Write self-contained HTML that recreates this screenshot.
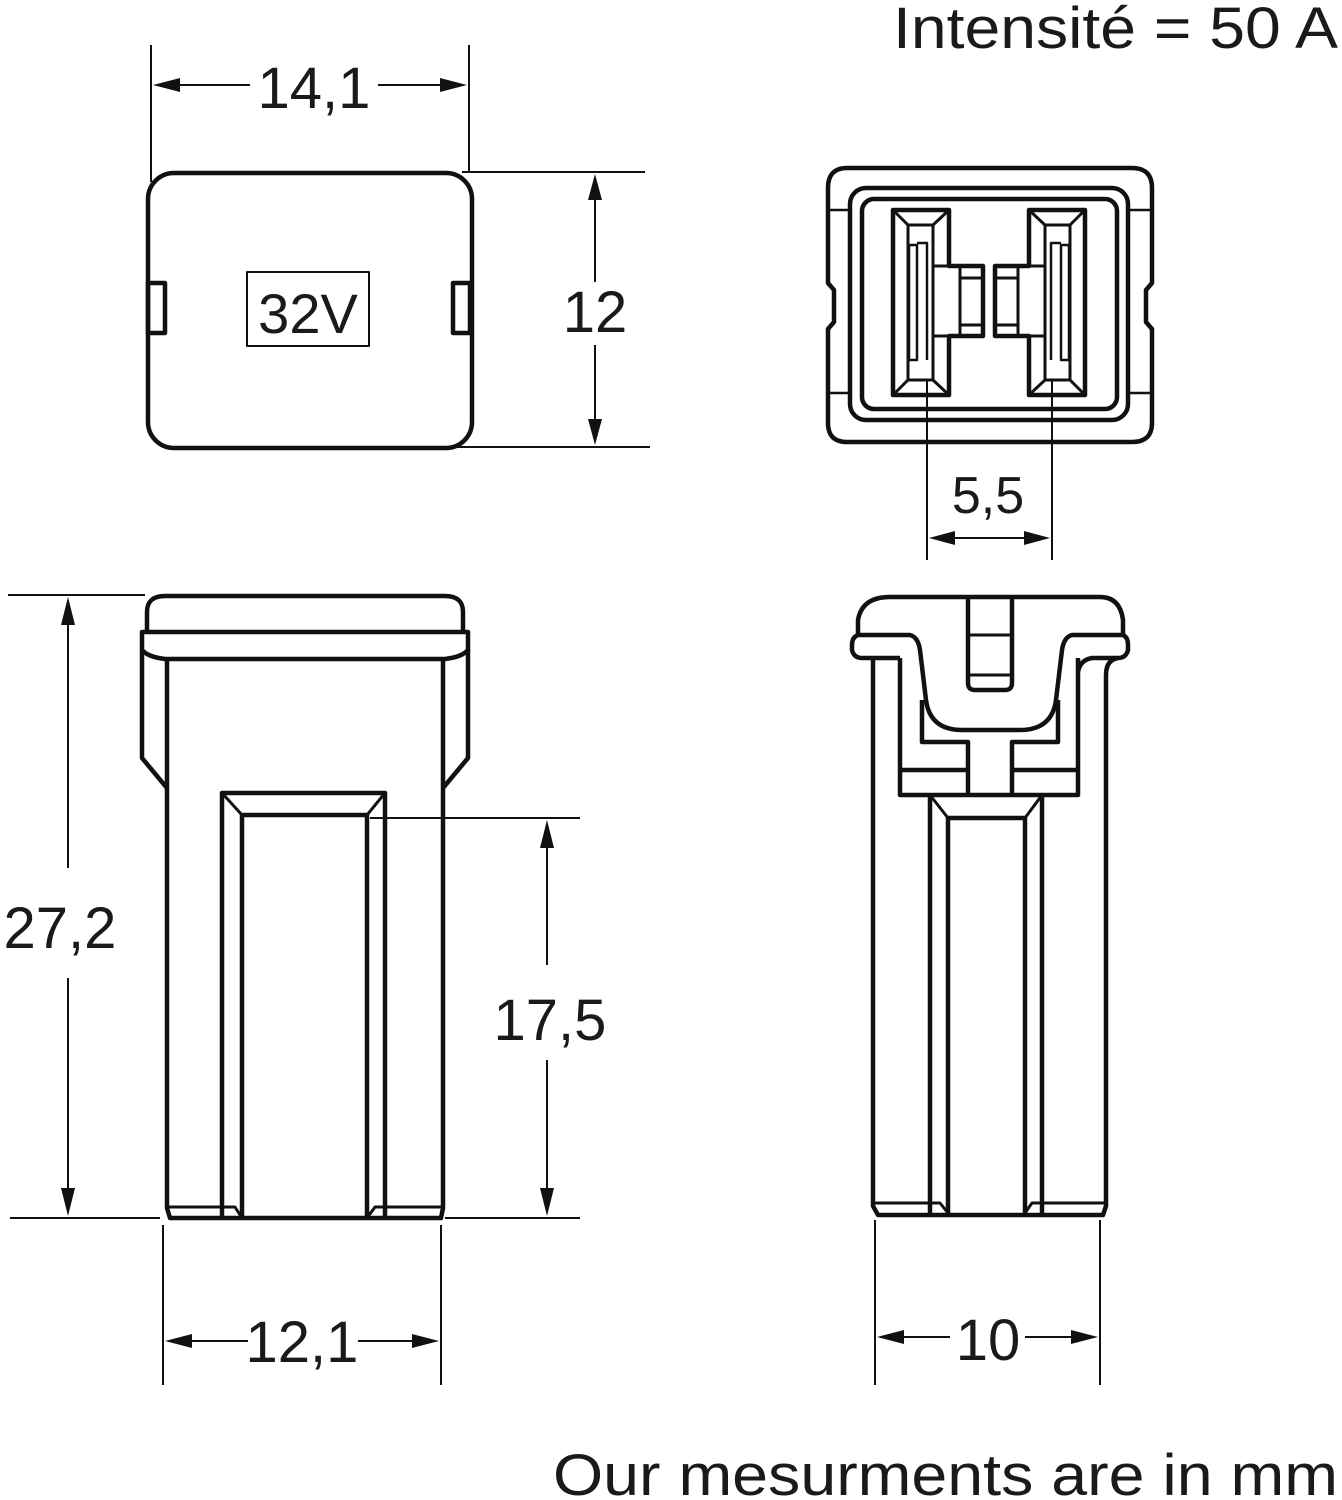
<!DOCTYPE html>
<html><head><meta charset="utf-8"><style>
html,body{margin:0;padding:0;background:#fff;}
svg{display:block;}
text{font-family:"Liberation Sans",sans-serif;fill:#1a1a1a;}
</style></head><body>
<svg width="1342" height="1500" viewBox="0 0 1342 1500" xmlns="http://www.w3.org/2000/svg">
<defs>
<marker id="a" viewBox="0 0 10 10" refX="10" refY="5" markerWidth="10" markerHeight="10" markerUnits="userSpaceOnUse" orient="auto-start-reverse">
</marker>
</defs>
<g fill="none" stroke="#111" stroke-width="2">
<!-- dimension 14,1 -->
<line x1="151" y1="45" x2="151" y2="182"/><line x1="469" y1="45" x2="469" y2="172"/>
<line x1="170" y1="85" x2="250" y2="85"/><line x1="378" y1="85" x2="450" y2="85"/>
<!-- dimension 12 -->
<line x1="462" y1="172" x2="645" y2="172"/><line x1="456" y1="447" x2="650" y2="447"/>
<line x1="595" y1="195" x2="595" y2="282"/><line x1="595" y1="345" x2="595" y2="428"/>
<!-- 5,5 -->
<line x1="927" y1="380" x2="927" y2="560"/><line x1="1052" y1="380" x2="1052" y2="560"/>
<line x1="945" y1="538" x2="1035" y2="538"/>
<!-- 27,2 -->
<line x1="8" y1="595" x2="145" y2="595"/><line x1="10" y1="1218" x2="160" y2="1218"/>
<line x1="68" y1="615" x2="68" y2="868"/><line x1="68" y1="978" x2="68" y2="1198"/>
<!-- 17,5 -->
<line x1="370" y1="818" x2="580" y2="818"/><line x1="445" y1="1218" x2="580" y2="1218"/>
<line x1="547" y1="840" x2="547" y2="965"/><line x1="547" y1="1060" x2="547" y2="1198"/>
<!-- 12,1 -->
<line x1="163" y1="1225" x2="163" y2="1385"/><line x1="441" y1="1225" x2="441" y2="1385"/>
<line x1="180" y1="1341" x2="248" y2="1341"/><line x1="358" y1="1341" x2="425" y2="1341"/>
<!-- 10 -->
<line x1="875" y1="1220" x2="875" y2="1385"/><line x1="1100" y1="1220" x2="1100" y2="1385"/>
<line x1="892" y1="1337" x2="950" y2="1337"/><line x1="1025" y1="1337" x2="1083" y2="1337"/>
</g>
<g fill="#111">
<polygon points="153,85 180,78 180,92"/><polygon points="467,85 440,78 440,92"/>
<polygon points="595,174 588,200 602,200"/><polygon points="595,445 588,419 602,419"/>
<polygon points="929,538 955,531 955,545"/><polygon points="1050,538 1024,531 1024,545"/>
<polygon points="68,597 61,625 75,625"/><polygon points="68,1216 61,1188 75,1188"/>
<polygon points="547,820 540,848 554,848"/><polygon points="547,1216 540,1188 554,1188"/>
<polygon points="165,1341 192,1334 192,1348"/><polygon points="439,1341 412,1334 412,1348"/>
<polygon points="877,1337 904,1330 904,1344"/><polygon points="1098,1337 1071,1330 1071,1344"/>
</g>
<g font-size="58" text-anchor="middle">
<text x="314" y="108">14,1</text>
<text x="595" y="332">12</text>
<text x="988" y="513" font-size="52">5,5</text>
<text x="60" y="948">27,2</text>
<text x="550" y="1040">17,5</text>
<text x="302" y="1362">12,1</text>
<text x="988" y="1360">10</text>
</g>
<text x="893" y="48" font-size="58" textLength="445" lengthAdjust="spacingAndGlyphs">Intensité = 50 A</text>
<text x="553" y="1495" font-size="58" textLength="785" lengthAdjust="spacingAndGlyphs">Our mesurments are in mm</text>

<g fill="none" stroke="#111" stroke-width="4.5" stroke-linejoin="round">
<!-- top-left view -->
<rect x="148" y="173" width="324" height="275" rx="26"/>
<rect x="148" y="283" width="17" height="50"/>
<rect x="453" y="283" width="17" height="50"/>
<rect x="247" y="272" width="122" height="74" stroke-width="2"/>

<!-- top-right view -->
<path d="M847 168 H1132 Q1152 168 1152 188 V283 L1146 290 V322 L1152 329 V423 Q1152 442 1132 442 H847 Q828 442 828 423 V329 L834 322 V290 L828 283 V188 Q828 168 847 168 Z"/>
<line x1="828" y1="210" x2="850" y2="210" stroke-width="2.5"/><line x1="828" y1="393" x2="850" y2="393" stroke-width="2.5"/>
<line x1="1130" y1="210" x2="1152" y2="210" stroke-width="2.5"/><line x1="1130" y1="393" x2="1152" y2="393" stroke-width="2.5"/>
<rect x="850" y="188" width="278" height="232" rx="16"/>
<rect x="862" y="199" width="255" height="210" rx="12"/>
<g id="term">
<path d="M893 210 H949 V266 H983 V336 H949 V395 H893 Z"/>
<rect x="908" y="225" width="25" height="155" stroke-width="3"/>
<line x1="893" y1="210" x2="908" y2="225" stroke-width="3"/><line x1="949" y1="210" x2="933" y2="225" stroke-width="3"/>
<line x1="893" y1="395" x2="908" y2="380" stroke-width="3"/><line x1="949" y1="395" x2="933" y2="380" stroke-width="3"/>
<rect x="909" y="245" width="8" height="115" stroke-width="2.5"/>
<path d="M917 243 H927 V360" stroke-width="2.5"/>
<line x1="960" y1="266" x2="960" y2="336" stroke-width="3"/>
<line x1="960" y1="278" x2="983" y2="278" stroke-width="3"/><line x1="960" y1="325" x2="983" y2="325" stroke-width="3"/>
<line x1="933" y1="266" x2="949" y2="266" stroke-width="3"/><line x1="933" y1="336" x2="949" y2="336" stroke-width="3"/>
</g>
<use href="#term" transform="translate(1978,0) scale(-1,1)"/>

<!-- bottom-left view -->
<path d="M147 632 V612 Q147 596 165 596 H445 Q463 596 463 612 V632"/>
<path d="M142 632 H468 V650 Q462 657 445 659 H165 Q148 657 142 650 Z"/>
<path d="M142 650 V758 L167 788"/><path d="M468 650 V758 L443 788"/>
<path d="M167 659 V1208 L170 1218 H441 L443 1208 V659"/>
<path d="M222 1218 V793 H385 V1218"/>
<path d="M242 1218 V815 H367 V1218"/>
<line x1="222" y1="793" x2="242" y2="815" stroke-width="3"/><line x1="385" y1="793" x2="367" y2="815" stroke-width="3"/>
<path d="M167 1207 H235 L242 1218" stroke-width="3"/><path d="M443 1207 H375 L367 1218" stroke-width="3"/>

<!-- bottom-right view -->
<path d="M858 635 V620 Q862 597 890 597 H1100 Q1120 597 1123 620 V635"/>
<path d="M858 635 H910 Q918 637 920 650 L926 700 Q930 730 962 730 H1020 Q1052 730 1056 700 L1062 650 Q1064 637 1072 635 H1123 Q1128 637 1128 645 V650 Q1126 658 1118 658 H1092 Q1080 660 1078 672"/>
<path d="M858 635 Q852 637 852 645 V650 Q854 658 862 658 H900"/>
<path d="M873 658 V1206 L878 1215 H1103 L1106 1206 V675 Q1106 660 1118 658"/>
<path d="M900 658 V795 H1078 V658"/>
<path d="M922 700 V742 H968 V795"/><path d="M1058 700 V742 H1012 V795"/>
<line x1="900" y1="770" x2="968" y2="770"/><line x1="1012" y1="770" x2="1078" y2="770"/>
<path d="M968 597 V683 Q968 690 975 690 H1005 Q1012 690 1012 683 V597"/>
<line x1="968" y1="635" x2="1012" y2="635" stroke-width="3"/><line x1="968" y1="675" x2="1012" y2="675" stroke-width="3"/>
<path d="M930 1215 V795 M1042 795 V1215"/>
<path d="M948 1215 V818 H1025 V1215"/>
<line x1="930" y1="795" x2="948" y2="818" stroke-width="3"/><line x1="1042" y1="795" x2="1025" y2="818" stroke-width="3"/>
<path d="M873 1203 H940 L948 1213" stroke-width="3"/><path d="M1106 1203 H1032 L1025 1213" stroke-width="3"/>
</g>
<text x="308" y="333" font-size="56" text-anchor="middle">32V</text>
</svg>
</body></html>
